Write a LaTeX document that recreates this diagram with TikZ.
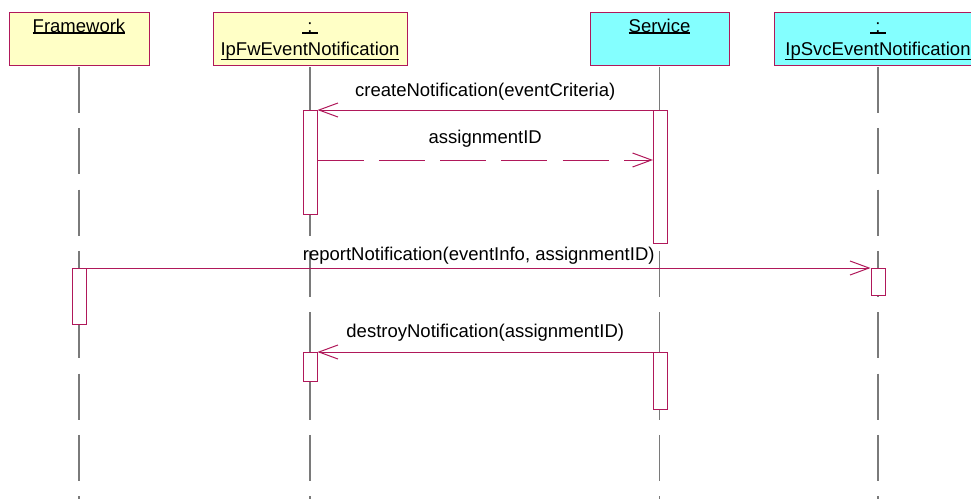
\documentclass[tikz,border=0pt]{standalone}
\usepackage{fontspec}
\setmainfont{Liberation Sans}
\usetikzlibrary{arrows.meta}
\definecolor{objyellow}{HTML}{FFFFC6}
\definecolor{objcyan}{HTML}{84FFFF}
\definecolor{umlred}{HTML}{B0185A}
\definecolor{lifegrey}{HTML}{7A7A7A}
% underlined object name, rule a little below the descenders
\newcommand{\objname}[1]{\setbox0=\hbox{#1}\leavevmode
  \rlap{\vrule width\wd0 height -\dimexpr\dp0+0.2pt\relax depth \dimexpr\dp0+1.6pt\relax}\box0}

\begin{document}
\begin{tikzpicture}[x=1pt,y=-1pt,font=\fontsize{18.5}{23}\selectfont,
    objbox/.style={draw=umlred,line width=1pt,minimum height=53pt,inner sep=0pt},
    objtext/.style={anchor=north,inner sep=0pt,yshift=-4.2pt,align=center},
    lifeline/.style={lifegrey,line width=1.2pt,dash pattern=on 46pt off 15.3pt},
    act/.style={draw=umlred,fill=white,line width=1pt,minimum width=14pt,
                inner sep=0pt,anchor=north},
    msg/.style={umlred,line width=1pt,-{Straight Barb[length=19pt,width=14pt]}},
    reply/.style={msg,dash pattern=on 46pt off 15.3pt},
    msgtext/.style={black,anchor=base,inner sep=0pt}]
    \useasboundingbox (0,0) rectangle (971,499);
    \clip (0,0) rectangle (971,499);
    % objects
    \node[objbox,fill=objyellow,minimum width=140pt] (fw)    at (79,38.5)  {};
    \node[objbox,fill=objyellow,minimum width=194pt] (ipfw)  at (310,38.5) {};
    \node[objbox,fill=objcyan,minimum width=139pt]   (svc)   at (659.5,38.5) {};
    \node[objbox,fill=objcyan,minimum width=208pt]   (ipsvc) at (878,38.5) {};
    \node[objtext] (fwName)    at (fw.north)    {\strut\objname{Framework}};
    \node[objtext] (ipfwName)  at (ipfw.north)  {\strut\objname{\ :\ }\\\objname{IpFwEventNotification}};
    \node[objtext] (svcName)   at (svc.north)   {\strut\objname{Service}};
    \node[objtext] (ipsvcName) at (ipsvc.north) {\strut\objname{\ :\ }\\\objname{IpSvcEventNotification}};
    % lifelines
    \foreach \obj in {fw,ipfw,svc,ipsvc}
      \draw[lifeline] ([yshift=-1.5pt]\obj.south) -- (\obj.south |- 0,499);
    % activations
    \node[act,minimum height=104pt] (ipfwAct1) at (310,110)  {};
    \node[act,minimum height=133pt] (svcAct1)  at (660.5,110) {};
    \node[act,minimum height=56pt]  (fwAct)    at (79.5,268) {};
    \node[act,minimum height=27pt]  (ipsvcAct) at (878,268)  {};
    \node[act,minimum height=29pt]  (ipfwAct2) at (310,352)  {};
    \node[act,minimum height=57pt]  (svcAct2)  at (660.5,352) {};
    % messages
    \draw[msg] (svcAct1.north west) -- node[msgtext,yshift=14pt] (createLbl)
      {createNotification(eventCriteria)} (ipfwAct1.north east);
    \draw[reply] ([yshift=-50pt]ipfwAct1.north east) coordinate (retStart)
      -- node[msgtext,yshift=17pt] (retLbl) {assignmentID} (retStart -| svcAct1.west);
    \draw[msg] (fwAct.north east) -- node[msgtext,yshift=8pt] (reportLbl)
      {reportNotification(eventInfo, assignmentID)} (ipsvcAct.north west);
    \draw[msg] (svcAct2.north west) -- node[msgtext,yshift=15pt] (destroyLbl)
      {destroyNotification(assignmentID)} (ipfwAct2.north east);
\end{tikzpicture}
\end{document}
